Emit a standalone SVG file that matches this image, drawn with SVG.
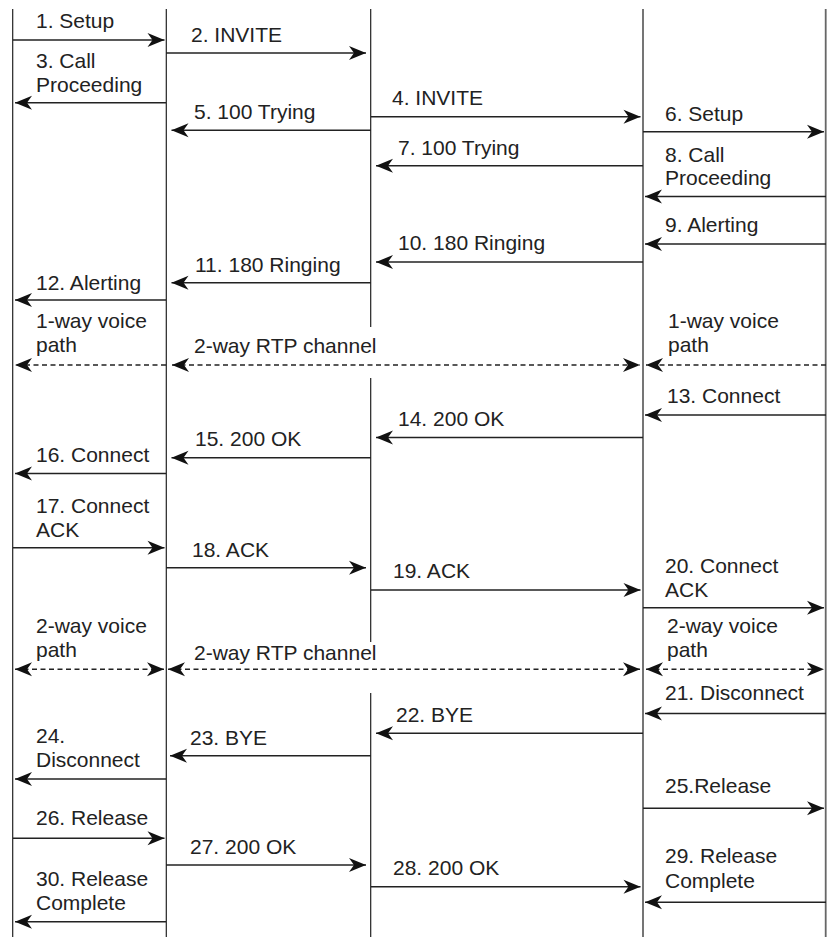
<svg xmlns="http://www.w3.org/2000/svg" width="828" height="937" viewBox="0 0 828 937">
<style>
.bg{fill:#fff}
.life{stroke:#222;stroke-width:1.2;fill:none}
.life.g{stroke:#666;stroke-width:1.8}
.msg{stroke:#222;stroke-width:1.5;fill:none;marker-end:url(#ah)}
.dash{stroke:#222;stroke-width:1.4;fill:none;stroke-dasharray:5 3.5}
.both{marker-start:url(#ahs);marker-end:url(#ah)}
.end{marker-end:url(#ah)}
text{font-family:"Liberation Sans",Arial,Helvetica,sans-serif;font-size:21px;fill:#222}
</style>
<defs>
<marker id="ah" markerUnits="userSpaceOnUse" viewBox="-18 -8 20 16" markerWidth="20" markerHeight="16" refX="0" refY="0" orient="auto">
<path d="M0,0 L-17,-7 L-12,0 L-17,7 Z" fill="#111" stroke="none"/>
</marker>
<marker id="ahs" markerUnits="userSpaceOnUse" viewBox="-18 -8 20 16" markerWidth="20" markerHeight="16" refX="0" refY="0" orient="auto-start-reverse">
<path d="M0,0 L-17,-7 L-12,0 L-17,7 Z" fill="#111" stroke="none"/>
</marker>
</defs>
<rect class="bg" x="0" y="0" width="828" height="937"/>
<g id="lifeline-1"><line class="life" x1="12.7" y1="9" x2="12.7" y2="937"/></g>
<g id="lifeline-2"><line class="life" x1="166.3" y1="9" x2="166.3" y2="937"/></g>
<g id="lifeline-3"><path class="life" d="M370.7,9 V327 M370.7,378 V642 M370.7,693 V937"/></g>
<g id="lifeline-4"><line class="life g" x1="643" y1="9" x2="643" y2="937"/></g>
<g id="lifeline-5"><line class="life g" x1="825.7" y1="9" x2="825.7" y2="937"/></g>
<g id="connectors">
<line class="msg" x1="13" y1="40" x2="164.5" y2="40"/>
<line class="msg" x1="166" y1="53" x2="366" y2="53"/>
<line class="msg" x1="166" y1="102.7" x2="15" y2="102.7"/>
<line class="msg" x1="371" y1="116.7" x2="640.5" y2="116.7"/>
<line class="msg" x1="371" y1="130.3" x2="171.5" y2="130.3"/>
<line class="msg" x1="643" y1="131.7" x2="824" y2="131.7"/>
<line class="msg" x1="643" y1="165.7" x2="376" y2="165.7"/>
<line class="msg" x1="826" y1="196.5" x2="645" y2="196.5"/>
<line class="msg" x1="826" y1="244" x2="645" y2="244"/>
<line class="msg" x1="643" y1="262" x2="376" y2="262"/>
<line class="msg" x1="371" y1="282.7" x2="171.5" y2="282.7"/>
<line class="msg" x1="166" y1="300" x2="15" y2="300"/>
<line class="dash end" x1="166" y1="365" x2="15" y2="365"/>
<line class="dash both" x1="172" y1="365" x2="640" y2="365"/>
<line class="dash end" x1="826" y1="365" x2="646" y2="365"/>
<line class="msg" x1="826" y1="415" x2="645" y2="415"/>
<line class="msg" x1="643" y1="437.5" x2="376" y2="437.5"/>
<line class="msg" x1="371" y1="457.7" x2="171.5" y2="457.7"/>
<line class="msg" x1="166" y1="473.5" x2="15" y2="473.5"/>
<line class="msg" x1="13" y1="547.7" x2="164.5" y2="547.7"/>
<line class="msg" x1="166" y1="567.7" x2="366" y2="567.7"/>
<line class="msg" x1="371" y1="590" x2="640.5" y2="590"/>
<line class="msg" x1="643" y1="607.7" x2="824" y2="607.7"/>
<line class="dash both" x1="15" y1="669.3" x2="164" y2="669.3"/>
<line class="dash both" x1="168" y1="669.3" x2="640" y2="669.3"/>
<line class="dash both" x1="646" y1="669.3" x2="824" y2="669.3"/>
<line class="msg" x1="826" y1="713.5" x2="645" y2="713.5"/>
<line class="msg" x1="643" y1="733.3" x2="376" y2="733.3"/>
<line class="msg" x1="371" y1="755.7" x2="170" y2="755.7"/>
<line class="msg" x1="166" y1="779" x2="15" y2="779"/>
<line class="msg" x1="643" y1="808.3" x2="824" y2="808.3"/>
<line class="msg" x1="13" y1="838.3" x2="164.5" y2="838.3"/>
<line class="msg" x1="166" y1="865" x2="366" y2="865"/>
<line class="msg" x1="371" y1="886.7" x2="640.5" y2="886.7"/>
<line class="msg" x1="826" y1="902.3" x2="645" y2="902.3"/>
<line class="msg" x1="166" y1="921.7" x2="15" y2="921.7"/>
</g>
<g id="labels">
<text x="36" y="28">1. Setup</text>
<text x="191" y="41.7">2. INVITE</text>
<text x="36" y="68">3. Call</text>
<text x="36" y="91.5">Proceeding</text>
<text x="392" y="105">4. INVITE</text>
<text x="194" y="119">5. 100 Trying</text>
<text x="665" y="120.5">6. Setup</text>
<text x="398" y="155">7. 100 Trying</text>
<text x="665" y="161.5">8. Call</text>
<text x="665" y="185">Proceeding</text>
<text x="665" y="231.5">9. Alerting</text>
<text x="398" y="250">10. 180 Ringing</text>
<text x="195" y="271.5">11. 180 Ringing</text>
<text x="36" y="290">12. Alerting</text>
<text x="36" y="328">1-way voice</text>
<text x="36" y="352">path</text>
<text x="194" y="353">2-way RTP channel</text>
<text x="668" y="328">1-way voice</text>
<text x="668" y="352">path</text>
<text x="667" y="402.5">13. Connect</text>
<text x="398" y="425.5">14. 200 OK</text>
<text x="195" y="446">15. 200 OK</text>
<text x="36" y="461.5">16. Connect</text>
<text x="36" y="512.5">17. Connect</text>
<text x="36" y="536.5">ACK</text>
<text x="192" y="556.5">18. ACK</text>
<text x="393" y="578">19. ACK</text>
<text x="665" y="572.5">20. Connect</text>
<text x="665" y="596.5">ACK</text>
<text x="36" y="633">2-way voice</text>
<text x="36" y="656.5">path</text>
<text x="194" y="660">2-way RTP channel</text>
<text x="667" y="633">2-way voice</text>
<text x="667" y="656.5">path</text>
<text x="665" y="700">21. Disconnect</text>
<text x="396" y="721.5">22. BYE</text>
<text x="190" y="745">23. BYE</text>
<text x="36" y="743">24.</text>
<text x="36" y="766.5">Disconnect</text>
<text x="665" y="793">25.Release</text>
<text x="36" y="825">26. Release</text>
<text x="190" y="854">27. 200 OK</text>
<text x="393" y="875">28. 200 OK</text>
<text x="665" y="863">29. Release</text>
<text x="665" y="888">Complete</text>
<text x="36" y="886">30. Release</text>
<text x="36" y="910">Complete</text>
</g>
</svg>
